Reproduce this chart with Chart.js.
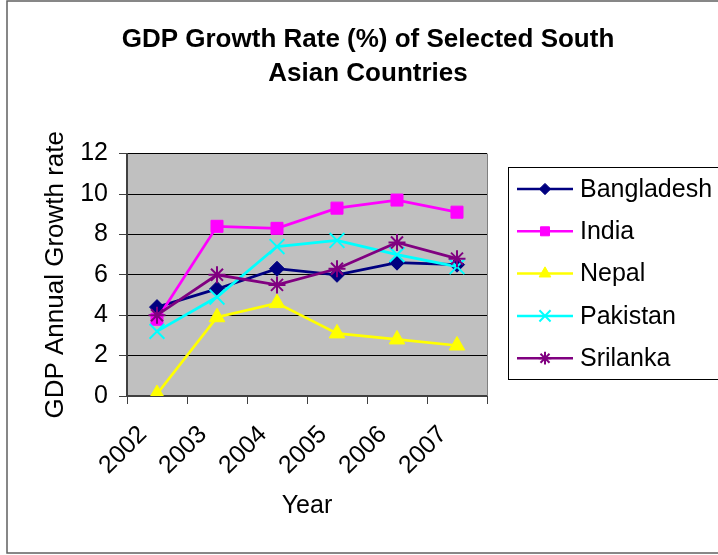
<!DOCTYPE html>
<html>
<head>
<meta charset="utf-8">
<script src="https://cdn.jsdelivr.net/npm/chart.js@4/dist/chart.umd.min.js"></script>
<style>
  html, body { margin: 0; padding: 0; background: #fff; }
  #wrap { width: 718px; height: 555px; position: relative; }
</style>
</head>
<body>
<div id="wrap"><canvas id="gdpChart" width="718" height="555"></canvas></div>
<script>
// Data
const years = ['2002', '2003', '2004', '2005', '2006', '2007'];
const countries = ['Bangladesh', 'India', 'Nepal', 'Pakistan', 'Srilanka'];
const bangladesh = [4.4, 5.3, 6.3, 6.0, 6.6, 6.5];
const india = [3.8, 8.4, 8.3, 9.3, 9.7, 9.1];
const nepal = [0.1, 3.9, 4.6, 3.1, 2.8, 2.5];
const pakistan = [3.2, 4.9, 7.4, 7.7, 7.0, 6.4];
const srilanka = [4.0, 6.0, 5.5, 6.3, 7.6, 6.8];
const yTicks = [0, 2, 4, 6, 8, 10, 12];

const FONT = '"Liberation Sans", Arial, sans-serif';

const seriesStyle = [
    { color: '#000080', pointStyle: 'rectRot', radius: 7.5, bw: 1 },
    { color: '#FF00FF', pointStyle: 'rect', radius: 8.5, bw: 1 },
    { color: '#FFFF00', pointStyle: 'triangle', radius: 9, bw: 1 },
    { color: '#00FFFF', pointStyle: 'crossRot', radius: 10.5, bw: 2 },
    { color: '#800080', pointStyle: 'star', radius: 8.5, bw: 2 }
];
const seriesData = [bangladesh, india, nepal, pakistan, srilanka];

/**
 * Grey plot background + outer chart frame
 */
const plotBackground = {
    id: 'plotBackground',
    beforeDraw(chart) {
        const { ctx, chartArea: a } = chart;
        ctx.save();
        ctx.fillStyle = '#C0C0C0';
        ctx.fillRect(a.left, a.top, a.right - a.left, a.bottom - a.top);
        ctx.strokeStyle = '#606060';
        ctx.lineWidth = 1.5;
        ctx.strokeRect(7, 1, 730, 552);
        ctx.restore();
    },
    beforeDatasetsDraw(chart) {
        const { ctx, chartArea: a } = chart;
        ctx.save();
        ctx.strokeStyle = '#808080';
        ctx.lineWidth = 1;
        ctx.beginPath();
        ctx.moveTo(a.right + 0.5, a.top);
        ctx.lineTo(a.right + 0.5, a.bottom);
        ctx.stroke();
        ctx.restore();
    }
};

/**
 * Boxed legend on the right, line + marker samples
 */
const boxLegend = {
    id: 'boxLegend',
    afterDraw(chart) {
        const ctx = chart.ctx;
        ctx.save();
        ctx.strokeStyle = '#000';
        ctx.lineWidth = 1;
        ctx.strokeRect(508.5, 167.5, 230, 212);
        chart.data.datasets.forEach((ds, i) => {
            const y = 189 + i * 42.3;
            ctx.strokeStyle = ds.borderColor;
            ctx.lineWidth = 2.5;
            ctx.beginPath();
            ctx.moveTo(517, y);
            ctx.lineTo(573, y);
            ctx.stroke();
            ctx.fillStyle = ds.pointBackgroundColor;
            ctx.strokeStyle = ds.pointBorderColor;
            ctx.lineWidth = ds.pointBorderWidth;
            Chart.helpers.drawPoint(ctx, {
                pointStyle: ds.pointStyle,
                radius: ds.pointRadius * 0.75,
                borderWidth: ds.pointBorderWidth,
                rotation: 0
            }, 545, y);
            ctx.fillStyle = '#000';
            ctx.font = '25px ' + FONT;
            ctx.textBaseline = 'middle';
            ctx.textAlign = 'left';
            ctx.fillText(ds.label, 580, y + 1);
        });
        ctx.restore();
    }
};

const datasets = countries.map((name, i) => ({
    label: name,
    data: seriesData[i],
    borderColor: seriesStyle[i].color,
    backgroundColor: seriesStyle[i].color,
    borderWidth: 2.75,
    tension: 0,
    pointStyle: seriesStyle[i].pointStyle,
    pointRadius: seriesStyle[i].radius,
    pointHoverRadius: seriesStyle[i].radius,
    pointBackgroundColor: seriesStyle[i].color,
    pointBorderColor: seriesStyle[i].color,
    pointBorderWidth: seriesStyle[i].bw,
    order: countries.length - i
}));

new Chart(document.getElementById('gdpChart'), {
    type: 'line',
    data: { labels: years, datasets: datasets },
    options: {
        responsive: false,
        animation: false,
        layout: { padding: { left: 18, right: 0, top: 0, bottom: 0 } },
        plugins: {
            legend: { display: false },
            tooltip: { enabled: false },
            title: {
                display: true,
                text: ['GDP Growth Rate (%) of Selected South', 'Asian Countries'],
                color: '#000',
                font: { family: FONT, size: 26, weight: 'bold', lineHeight: 1.3 },
                padding: { top: 23, bottom: 63 }
            }
        },
        scales: {
            x: {
                offset: true,
                grid: {
                    offset: true,
                    drawOnChartArea: false,
                    drawTicks: true,
                    tickLength: 8,
                    tickColor: '#404040'
                },
                border: { color: '#404040', width: 2 },
                ticks: {
                    color: '#000',
                    font: { family: FONT, size: 25 },
                    minRotation: 45,
                    maxRotation: 45,
                    padding: 16,
                    labelOffset: -14
                },
                title: {
                    display: true,
                    text: 'Year',
                    color: '#000',
                    font: { family: FONT, size: 25 },
                    padding: { top: 0, bottom: 34 }
                },
                afterFit: s => { s.height = 159; }
            },
            y: {
                min: 0,
                max: 12,
                afterBuildTicks: s => { s.ticks = yTicks.map(v => ({ value: v })); },
                grid: {
                    color: '#000',
                    lineWidth: 1,
                    tickLength: 8,
                    tickColor: '#404040'
                },
                border: { color: '#404040', width: 2 },
                ticks: {
                    color: '#000',
                    font: { family: FONT, size: 25 },
                    padding: 11
                },
                title: {
                    display: true,
                    text: 'GDP Annual Growth rate',
                    color: '#000',
                    font: { family: FONT, size: 26 },
                    padding: { top: 22, bottom: 0 }
                },
                afterFit: s => { s.width = 109; }
            },
            // empty right-hand scale that reserves room for the boxed legend
            legendSpace: {
                type: 'linear',
                position: 'right',
                display: true,
                grid: { display: false, drawTicks: false },
                border: { display: false },
                ticks: { display: false },
                afterFit: s => { s.width = 231; }
            }
        }
    },
    plugins: [plotBackground, boxLegend]
});
</script>
</body>
</html>
